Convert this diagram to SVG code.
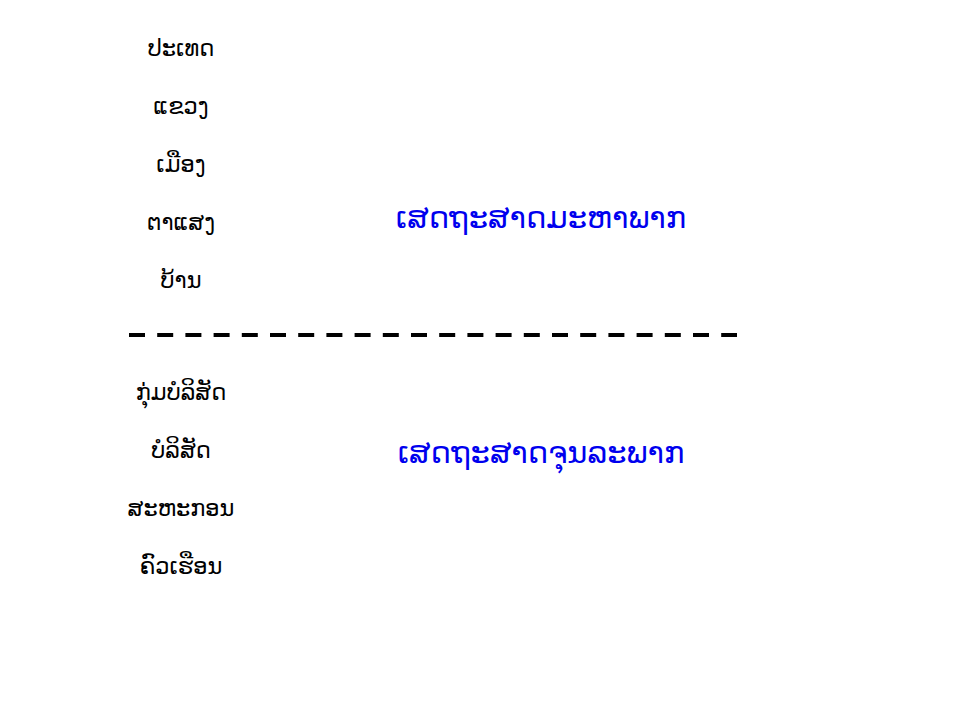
<svg xmlns="http://www.w3.org/2000/svg" width="960" height="720" viewBox="0 0 960 720">
<style>
.l{font-family:"DejaVu Sans ExtraLight","DejaVu Sans","Noto Sans",sans-serif;font-size:22.5px;fill:#000;text-anchor:middle}
.b{font-family:"DejaVu Sans ExtraLight","DejaVu Sans","Noto Sans",sans-serif;font-size:30.5px;fill:#0000ee;text-anchor:middle}
</style>
<rect width="960" height="720" fill="#fff"/>
<g id="macro-levels">
<text class="l" x="181" y="56">ປະເທດ</text>
<text class="l" x="181" y="114">ແຂວງ</text>
<text class="l" x="181" y="172">ເມືອງ</text>
<text class="l" x="181" y="230">ຕາແສງ</text>
<text class="l" x="181" y="288">ບ້ານ</text>
</g>
<g id="micro-levels">
<text class="l" x="181" y="400">ກຸ່ມບໍລິສັດ</text>
<text class="l" x="181" y="458">ບໍລິສັດ</text>
<text class="l" x="181" y="516">ສະຫະກອນ</text>
<text class="l" x="181" y="574">ຄົວເຮືອນ</text>
</g>
<g id="macro"><text class="b" x="541" y="228">ເສດຖະສາດມະຫາພາກ</text></g>
<g id="micro"><text class="b" x="541" y="463">ເສດຖະສາດຈຸນລະພາກ</text></g>
<g id="connectors">
<line x1="129" y1="335" x2="737" y2="335" stroke="#000" stroke-width="4" stroke-dasharray="16 12.2"/>
</g>
</svg>
